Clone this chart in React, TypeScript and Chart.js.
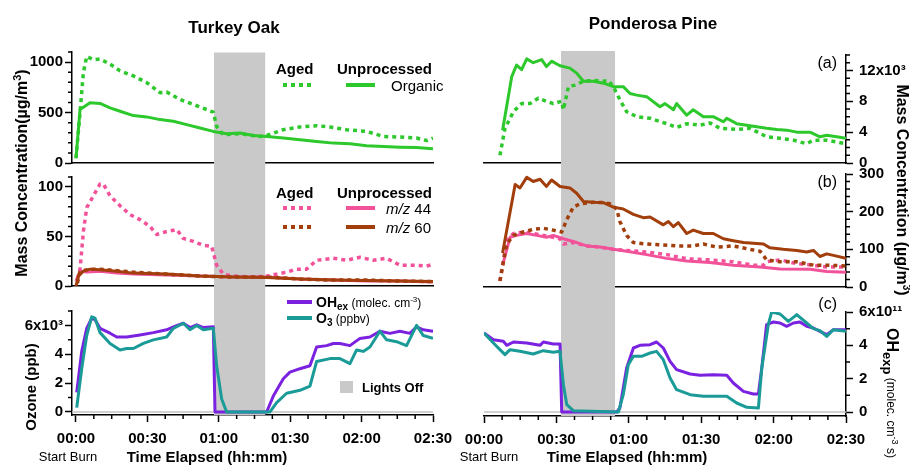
import React, { useEffect, useRef } from "react";
import { Chart, registerables } from "chart.js";

Chart.register(...registerables);

const FONT = '"Liberation Sans", Arial, Helvetica, sans-serif';

// ---------------- axes / annotations ----------------
const timeTicks = [0, 30, 60, 90, 120, 150]; // minutes since start of burn
const oakLightsOff = [58, 79.5];
const pineLightsOff = [31.9, 54.3];

const oakOrgTicks = [0, 500, 1000];
const oakMzTicks = [0, 50, 100];
const oakOxTicks = [0, 2, 4, 6];
const pineOrgTicks = [0, 4, 8, 12];
const pineMzTicks = [0, 100, 200, 300];
const pineOxTicks = [0, 2, 4, 6];

// ---------------- Turkey Oak (a) organic, ug/m3 ----------------
const oakOrgUnprocT = [0, 1.7, 5.9, 10.1, 14.3, 18.5, 24.1, 29.7, 35.3, 40.9, 46.5, 52.1, 57.7, 63.3, 68.9, 74.5, 80.1, 87.1, 94.1, 101.1, 108.1, 115.1, 122.1, 129.1, 136.1, 143.1, 150];
const oakOrgUnprocV = [47, 530, 597, 590, 547, 513, 470, 457, 430, 413, 380, 347, 313, 290, 297, 273, 263, 247, 230, 213, 197, 190, 170, 163, 157, 153, 140];
const oakOrgAgedT = [0, 1.7, 3.1, 4.5, 7.3, 10.1, 14.3, 18.5, 24.1, 29.7, 35.3, 38.1, 43.7, 49.3, 54.9, 57.7, 59.1, 61.9, 68.9, 77.3, 80.1, 87.1, 94.1, 101.1, 106.7, 113.7, 122.1, 129.1, 136.1, 143.1, 147.3, 150];
const oakOrgAgedV = [50, 500, 897, 1057, 1023, 1030, 980, 913, 863, 797, 697, 703, 630, 580, 530, 503, 363, 280, 290, 263, 273, 330, 357, 370, 357, 330, 313, 263, 257, 247, 223, 247];

// ---------------- Turkey Oak (b) m/z 44 & 60 ----------------
const oak44AgedT = [0.6, 1.7, 3.1, 4.5, 7.3, 10.1, 11.5, 14.3, 18.5, 22.7, 26.9, 31.1, 33.9, 38.1, 42.3, 45.1, 49.3, 53.5, 57.0, 59.1, 61.9, 66.1, 73.1, 80.1, 84.3, 88.5, 92.7, 96.9, 101.1, 108.1, 113.7, 119.3, 124.9, 130.5, 136.1, 143.1, 147.3, 150];
const oak44AgedV = [7, 17, 55, 79, 91, 103, 103, 91, 81, 72, 67, 60, 52, 55, 57, 48, 45, 41, 40, 21, 12, 10, 9, 10, 12, 14, 17, 17, 26, 28, 26, 29, 26, 28, 21, 21, 20, 22];
const oak44UnprocT = [0, 1.7, 4.5, 10.1, 17.1, 24.1, 38.1, 52.1, 66.1, 80.1, 94.1, 108.1, 122.1, 136.1, 150];
const oak44UnprocV = [5, 15, 14, 15, 13, 12, 11, 10, 9, 9, 7, 6, 5, 5, 4];
const oak60AgedT = [0.6, 1.7, 5.9, 10.1, 24.1, 38.1, 52.1, 66.1, 80.1, 94.1, 108.1, 122.1, 136.1, 150];
const oak60AgedV = [3, 15, 17, 17, 14, 12, 10, 9, 9, 7, 6, 6, 5, 4.5];
const oak60UnprocT = [0, 1.0, 3.1, 5.9, 10.1, 17.1, 24.1, 38.1, 52.1, 66.1, 80.1, 94.1, 108.1, 122.1, 136.1, 150];
const oak60UnprocV = [0, 10, 15, 17, 16.5, 15, 13, 12, 10, 9, 8.5, 7, 6, 5.5, 5, 4.5];

// ---------------- Turkey Oak (c) OH / O3 ----------------
const oakOHT = [0.3, 2.4, 4.5, 6.6, 8.0, 10.1, 14.3, 17.1, 21.3, 26.9, 32.5, 38.1, 40.9, 45.1, 47.9, 50.7, 53.5, 57.7, 58.4, 80.1, 82.9, 87.1, 89.9, 94.1, 98.3, 101.1, 105.3, 108.1, 110.9, 115.1, 119.3, 123.5, 127.7, 131.9, 136.1, 140.3, 143.1, 145.9, 150];
const oakOHV = [1.36, 4.2, 5.8, 6.5, 6.4, 5.8, 5.46, 5.2, 5.2, 5.34, 5.5, 5.7, 5.9, 6.15, 5.85, 6.04, 5.85, 5.9, 0, 0, 1.1, 2.3, 2.76, 3.0, 3.2, 4.5, 4.6, 4.75, 4.75, 4.6, 5.1, 5.2, 5.6, 5.45, 5.6, 5.45, 5.9, 5.7, 5.6];
const oakO3T = [0.3, 2.4, 4.5, 6.6, 8.0, 10.1, 14.3, 18.5, 21.3, 24.1, 28.3, 32.5, 38.1, 40.9, 45.1, 47.9, 50.7, 53.5, 57.7, 59.1, 61.2, 63.3, 81.5, 84.3, 88.5, 94.1, 98.3, 101.1, 106.7, 110.9, 115.1, 117.9, 120.7, 123.5, 127.7, 130.5, 134.7, 138.9, 143.1, 145.9, 150];
const oakO3V = [0.3, 3.0, 5.3, 6.6, 6.5, 5.5, 4.75, 4.3, 4.4, 4.4, 4.75, 5.0, 5.2, 5.8, 6.15, 5.7, 6.0, 5.7, 5.8, 3.2, 0.9, 0, 0, 0.65, 1.3, 1.5, 1.8, 3.5, 3.7, 3.7, 3.35, 4.3, 4.2, 4.5, 5.6, 5.0, 4.87, 4.6, 6.0, 5.3, 5.1];

// ---------------- Ponderosa Pine (a) organic, x10^3 ug/m3 ----------------
const pineOrgUnprocT = [7.7, 11.5, 13.5, 15.6, 17.7, 20.4, 23.9, 25.9, 28.0, 31.5, 35.6, 38.4, 41.2, 45.3, 49.5, 53.6, 57.7, 60.5, 63.3, 67.4, 72.9, 75.0, 78.5, 79.8, 84.0, 86.7, 90.9, 95.0, 99.2, 100.6, 104.7, 108.9, 113.0, 117.1, 121.3, 125.4, 129.6, 135.1, 139.2, 142.0, 146.1, 150];
const pineOrgUnprocV = [4.26, 11.2, 12.7, 12.1, 13.5, 13.0, 13.4, 12.5, 13.2, 12.6, 12.3, 11.65, 10.6, 10.6, 10.35, 9.9, 9.9, 9.0, 8.8, 8.6, 7.3, 7.7, 6.9, 7.7, 6.2, 6.9, 6.0, 6.0, 5.35, 5.8, 5.1, 4.9, 4.7, 4.5, 4.35, 4.26, 4.0, 4.0, 3.4, 3.6, 3.4, 3.2];
const pineOrgAgedT = [6.6, 8.7, 12.2, 15.6, 19.1, 22.5, 25.9, 28.7, 32.2, 32.9, 35.0, 37.7, 41.2, 45.3, 49.5, 51.5, 53.6, 56.3, 59.1, 63.3, 68.8, 75.7, 79.8, 84.0, 89.5, 93.6, 97.8, 104.7, 110.2, 117.1, 122.7, 128.2, 133.7, 136.5, 142.0, 150];
const pineOrgAgedV = [1.0, 4.5, 6.65, 7.7, 7.7, 8.4, 8.0, 7.7, 8.0, 6.9, 9.9, 10.1, 10.6, 10.7, 10.6, 10.7, 9.9, 8.2, 6.65, 6.0, 5.8, 5.1, 4.6, 5.1, 4.9, 5.2, 4.5, 4.35, 4.5, 3.4, 3.2, 2.96, 2.5, 2.96, 2.96, 2.5];

// ---------------- Ponderosa Pine (b) m/z 44 & 60 ----------------
const pine60UnprocT = [7.7, 12.9, 14.9, 17.7, 20.4, 23.2, 25.9, 28.0, 31.5, 35.6, 38.4, 41.2, 45.3, 49.5, 53.6, 57.7, 61.9, 66.0, 68.8, 74.3, 76.4, 78.5, 80.5, 84.0, 86.7, 90.9, 95.0, 99.2, 103.3, 107.5, 111.6, 115.8, 118.5, 124.0, 129.6, 133.7, 136.5, 139.2, 142.0, 144.8, 150];
const pine60UnprocV = [90, 272, 263, 291, 280, 286, 267, 284, 267, 263, 249, 227, 225, 224, 212, 207, 193, 184, 186, 165, 174, 160, 171, 142, 151, 142, 142, 128, 123, 118, 116, 114, 104, 100, 97, 93, 97, 81, 88, 84, 76];
const pine60AgedT = [6.6, 9.4, 12.2, 16.3, 20.4, 24.6, 28.7, 32.2, 34.3, 37.0, 39.8, 45.3, 49.5, 52.2, 55.0, 56.3, 59.1, 61.9, 67.4, 72.9, 79.8, 86.7, 90.9, 96.4, 103.3, 110.2, 114.4, 117.1, 122.7, 129.6, 136.5, 142.0, 150];
const pine60AgedV = [16, 114, 137, 146, 153, 156, 151, 146, 179, 212, 221, 225, 224, 221, 207, 174, 137, 118, 114, 112, 109, 109, 114, 106, 109, 100, 95, 72, 67, 67, 58, 58, 56];
const pine44UnprocT = [7.7, 10.8, 13.5, 17.7, 21.8, 25.9, 28.7, 32.9, 38.4, 42.6, 48.1, 53.6, 59.1, 67.4, 75.7, 84.0, 93.6, 103.3, 114.4, 122.7, 135.1, 142.0, 150];
const pine44UnprocV = [58, 132, 137, 142, 137, 132, 137, 128, 118, 109, 106, 100, 95, 86, 76, 69, 65, 58, 53, 48, 47, 41, 39];
const pine44AgedT = [6.6, 9.4, 12.2, 16.3, 20.4, 24.6, 28.7, 31.5, 32.9, 37.0, 42.6, 48.1, 53.6, 59.1, 67.4, 75.7, 84.0, 93.6, 103.3, 111.6, 115.8, 117.1, 122.7, 129.6, 136.5, 142.0, 150];
const pine44AgedV = [16, 123, 142, 146, 142, 137, 132, 128, 114, 118, 109, 106, 100, 97, 93, 86, 75, 72, 67, 58, 58, 67, 72, 62, 58, 53, 53];

// ---------------- Ponderosa Pine (c) OH exposure / O3 ----------------
const pineOHT = [0, 3.9, 8.0, 9.4, 12.2, 17.7, 23.2, 24.6, 28.7, 31.5, 32.2, 55.0, 56.3, 59.1, 61.9, 64.6, 68.8, 71.5, 74.3, 77.1, 79.8, 85.4, 89.5, 95.0, 100.6, 103.3, 107.5, 111.6, 113.7, 115.1, 117.1, 119.9, 122.7, 125.4, 128.2, 130.9, 133.7, 136.5, 139.2, 142.0, 144.8, 150];
const pineOHV = [4.74, 4.34, 4.24, 4.0, 4.2, 4.14, 4.0, 4.2, 4.08, 4.08, 0, 0, 0.24, 2.64, 3.84, 4.0, 4.04, 4.2, 3.84, 3.04, 2.54, 2.28, 2.2, 2.24, 2.2, 1.74, 1.24, 1.08, 1.08, 2.64, 5.24, 5.4, 5.34, 5.14, 5.34, 5.4, 5.14, 5.04, 4.84, 4.64, 4.94, 4.94];
const pineO3T = [0, 3.9, 6.6, 8.7, 10.8, 14.9, 20.4, 24.6, 28.7, 31.5, 32.9, 34.3, 37.0, 55.7, 57.7, 59.8, 61.9, 65.3, 68.8, 71.5, 74.3, 77.1, 79.8, 85.4, 90.9, 96.4, 100.6, 104.7, 108.9, 113.7, 115.1, 117.8, 119.2, 122.7, 126.1, 129.6, 133.7, 136.5, 139.2, 142.0, 144.8, 150];
const pineO3V = [4.74, 4.14, 3.74, 3.44, 3.74, 3.64, 3.48, 3.68, 3.58, 3.64, 1.64, 0.44, 0.08, 0, 1.04, 2.84, 3.34, 3.34, 3.54, 3.64, 3.14, 2.04, 1.34, 1.04, 0.94, 0.94, 0.94, 0.54, 0.28, 0.24, 2.64, 5.24, 6.0, 5.88, 5.44, 5.84, 5.34, 5.0, 4.88, 4.54, 4.94, 4.84];

// ---------------- styles ----------------
const GREEN = "#2cc82c";
const PINK = "#f2529a";
const BROWN = "#a23e0c";
const PURPLE = "#7a22e0";
const TEAL = "#1b9b98";
const BAND = "#c9c9c9";

type Series = { t: number[]; v: number[]; color: string; dashed?: boolean };
type PanelDef = {
  col: "L" | "R";
  top: number;
  bottom: number;
  bandTop: number;
  bandBottom: number;
  yMin: number;
  yMax: number;
  major: number[];
  minor: number;
  fmt: (v: number) => string;
  bottomAxis?: boolean;
  zeroLine?: boolean;
  series: Series[];
};

const COLS: Record<string, { left: number; right: number; xMin: number; xMax: number; yPos: "left" | "right"; lights: number[] }> = {
  L: { left: 72, right: 433, xMin: -1.68, xMax: 150, yPos: "left", lights: oakLightsOff },
  R: { left: 484, right: 846, xMin: 0, xMax: 150, yPos: "right", lights: pineLightsOff },
};

const plain = (v: number) => String(v);

const PANELS: PanelDef[] = [
  {
    col: "L", top: 52, bottom: 163, bandTop: 52.5, bandBottom: 177, yMin: 0, yMax: 1100,
    major: oakOrgTicks, minor: 100, fmt: plain,
    series: [
      { t: oakOrgUnprocT, v: oakOrgUnprocV, color: GREEN },
      { t: oakOrgAgedT, v: oakOrgAgedV, color: GREEN, dashed: true },
    ],
  },
  {
    col: "L", top: 177, bottom: 286, bandTop: 177, bandBottom: 311, yMin: 0, yMax: 110,
    major: oakMzTicks, minor: 10, fmt: plain,
    series: [
      { t: oak60UnprocT, v: oak60UnprocV, color: BROWN },
      { t: oak60AgedT, v: oak60AgedV, color: BROWN, dashed: true },
      { t: oak44UnprocT, v: oak44UnprocV, color: PINK },
      { t: oak44AgedT, v: oak44AgedV, color: PINK, dashed: true },
    ],
  },
  {
    col: "L", top: 311, bottom: 415, bandTop: 311, bandBottom: 415, yMin: -0.21, yMax: 7,
    major: oakOxTicks, minor: 1, fmt: (v) => (v === 6 ? "6x10\u00b3" : String(v)),
    bottomAxis: true, zeroLine: true,
    series: [
      { t: oakO3T, v: oakO3V, color: TEAL },
      { t: oakOHT, v: oakOHV, color: PURPLE },
    ],
  },
  {
    col: "R", top: 55, bottom: 163, bandTop: 51, bandBottom: 174, yMin: 0, yMax: 14,
    major: pineOrgTicks, minor: 1, fmt: (v) => (v === 12 ? "12x10\u00b3" : String(v)),
    series: [
      { t: pineOrgUnprocT, v: pineOrgUnprocV, color: GREEN },
      { t: pineOrgAgedT, v: pineOrgAgedV, color: GREEN, dashed: true },
    ],
  },
  {
    col: "R", top: 174, bottom: 287, bandTop: 174, bandBottom: 312, yMin: 0, yMax: 300,
    major: pineMzTicks, minor: 20, fmt: plain,
    series: [
      { t: pine60UnprocT, v: pine60UnprocV, color: BROWN },
      { t: pine60AgedT, v: pine60AgedV, color: BROWN, dashed: true },
      { t: pine44UnprocT, v: pine44UnprocV, color: PINK },
      { t: pine44AgedT, v: pine44AgedV, color: PINK, dashed: true },
    ],
  },
  {
    col: "R", top: 312, bottom: 416, bandTop: 312, bandBottom: 416, yMin: -0.24, yMax: 6,
    major: pineOxTicks, minor: 1, fmt: (v) => (v === 6 ? "6x10\u00b9\u00b9" : String(v)),
    bottomAxis: true, zeroLine: true,
    series: [
      { t: pineO3T, v: pineO3V, color: TEAL },
      { t: pineOHT, v: pineOHV, color: PURPLE },
    ],
  },
];

const fmtTime = (v: number) => {
  const h = Math.floor(v / 60);
  const m = Math.round(v % 60);
  return `${String(h).padStart(2, "0")}:${String(m).padStart(2, "0")}`;
};

function makeConfig(p: PanelDef): any {
  const c = COLS[p.col];
  const W = 910;
  const H = 465;
  const xH = p.bottomAxis ? 40 : 2;
  const yW = c.yPos === "left" ? c.left : W - c.right;
  const padding = {
    top: p.top,
    bottom: H - p.bottom - xH,
    left: c.yPos === "left" ? 0 : c.left,
    right: c.yPos === "left" ? W - c.right : 0,
  };
  const datasets = p.series.map((s) => ({
    data: s.t.map((t, i) => ({ x: t, y: s.v[i] })),
    borderColor: s.color,
    backgroundColor: s.color,
    borderWidth: s.dashed ? 3.5 : 3,
    borderDash: s.dashed ? [4, 4] : [],
    borderCapStyle: "butt",
    borderJoinStyle: "round",
    pointRadius: 0,
    pointHoverRadius: 0,
    fill: false,
    tension: 0,
  }));

  const deco = {
    id: "deco",
    beforeDatasetsDraw(chart: any) {
      const { ctx, chartArea, scales } = chart;
      const xs = scales.x;
      const ys = scales.y;
      ctx.save();
      if (p.zeroLine) {
        const y0 = ys.getPixelForValue(0);
        ctx.strokeStyle = "#c2c2c2";
        ctx.lineWidth = 1.5;
        ctx.beginPath();
        ctx.moveTo(chartArea.left, y0);
        ctx.lineTo(chartArea.right, y0);
        ctx.stroke();
      }
      const x0 = xs.getPixelForValue(c.lights[0]);
      const x1 = xs.getPixelForValue(c.lights[1]);
      ctx.fillStyle = BAND;
      ctx.fillRect(x0, p.bandTop, x1 - x0, p.bandBottom - p.bandTop);
      ctx.restore();
    },
    afterDraw(chart: any) {
      const { ctx, chartArea, scales } = chart;
      const xs = scales.x;
      const ys = scales.y;
      ctx.save();
      ctx.strokeStyle = "#000";
      ctx.lineWidth = 1.5;
      const ax = c.yPos === "left" ? chartArea.left : chartArea.right;
      const dir = c.yPos === "left" ? -1 : 1;
      const n = Math.round(p.yMax / p.minor);
      ctx.beginPath();
      for (let i = 1; i <= n; i++) {
        const v = i * p.minor;
        if (v > p.yMax + 1e-9) break;
        if (p.major.some((m) => Math.abs(m - v) < 1e-9)) continue;
        const py = ys.getPixelForValue(v);
        ctx.moveTo(ax, py);
        ctx.lineTo(ax + dir * 4, py);
      }
      if (p.bottomAxis) {
        for (let i = 1; i < 20; i++) {
          if (i % 4 === 0) continue;
          const px = xs.getPixelForValue(i * 7.5);
          ctx.moveTo(px, chartArea.bottom);
          ctx.lineTo(px, chartArea.bottom + 4);
        }
      }
      ctx.stroke();
      ctx.restore();
    },
  };

  return {
    type: "line",
    data: { datasets },
    options: {
      responsive: false,
      maintainAspectRatio: false,
      animation: false,
      devicePixelRatio: 1,
      events: [],
      layout: { padding },
      plugins: {
        legend: { display: false },
        tooltip: { enabled: false },
        title: { display: false },
      },
      scales: {
        x: {
          type: "linear",
          min: c.xMin,
          max: c.xMax,
          afterBuildTicks: (s: any) => {
            s.ticks = timeTicks.map((v) => ({ value: v }));
          },
          afterFit: (s: any) => {
            s.height = xH;
          },
          grid: {
            display: !!p.bottomAxis,
            drawOnChartArea: false,
            drawTicks: true,
            tickLength: 7,
            tickColor: "#000",
            tickWidth: 1.5,
          },
          border: { display: true, color: "#000", width: 1.5 },
          ticks: {
            display: !!p.bottomAxis,
            autoSkip: false,
            maxRotation: 0,
            padding: 8,
            color: "#000",
            font: { family: FONT, size: 15, weight: "bold" },
            callback: (v: number) => fmtTime(v),
          },
        },
        y: {
          type: "linear",
          position: c.yPos,
          min: p.yMin,
          max: p.yMax,
          afterBuildTicks: (s: any) => {
            s.ticks = p.major.map((v) => ({ value: v }));
          },
          afterFit: (s: any) => {
            s.width = yW;
          },
          grid: {
            drawOnChartArea: false,
            drawTicks: true,
            tickLength: 7,
            tickColor: "#000",
            tickWidth: 1.5,
          },
          border: { display: true, color: "#000", width: 1.5 },
          ticks: {
            autoSkip: false,
            padding: c.yPos === "left" ? 2 : 6,
            color: "#000",
            font: { family: FONT, size: 15, weight: "bold" },
            callback: (v: number) => p.fmt(v),
          },
        },
      },
    },
    plugins: [deco],
  };
}

function PanelCanvas({ panel }: { panel: PanelDef }) {
  const ref = useRef<HTMLCanvasElement>(null);
  useEffect(() => {
    if (!ref.current) return;
    const chart = new Chart(ref.current, makeConfig(panel));
    return () => chart.destroy();
  }, [panel]);
  return (
    <canvas
      ref={ref}
      width={910}
      height={465}
      style={{ position: "absolute", left: 0, top: 0, width: 910, height: 465, pointerEvents: "none" }}
    />
  );
}

type TxtProps = {
  x: number;
  y: number;
  size: number;
  bold?: boolean;
  align?: "left" | "center" | "right";
  rotate?: number;
  children: React.ReactNode;
};
function Txt({ x, y, size, bold, align = "left", rotate = 0, children }: TxtProps) {
  const tx = align === "left" ? "0" : align === "center" ? "-50%" : "-100%";
  return (
    <div
      style={{
        position: "absolute",
        left: x,
        top: y,
        transform: `translate(${tx},-50%) rotate(${rotate}deg)`,
        fontSize: size,
        fontWeight: bold ? 700 : 400,
        lineHeight: 1,
        whiteSpace: "nowrap",
      }}
    >
      {children}
    </div>
  );
}

const Sup = ({ s, d, children, bold }: { s: number; d: number; bold?: boolean; children: React.ReactNode }) => (
  <span style={{ fontSize: s, position: "relative", top: d, fontWeight: bold ? 700 : undefined }}>{children}</span>
);

function LineSample({ x0, x1, y, color, dashed }: { x0: number; x1: number; y: number; color: string; dashed?: boolean }) {
  return (
    <div
      style={{
        position: "absolute",
        left: x0,
        top: y - 2,
        width: x1 - x0,
        height: 4,
        background: dashed
          ? `repeating-linear-gradient(90deg, ${color} 0px, ${color} 4px, transparent 4px, transparent 8px)`
          : color,
      }}
    />
  );
}

export default function App() {
  return (
    <div
      style={{
        position: "fixed",
        left: 0,
        top: 0,
        width: 910,
        height: 465,
        background: "#fff",
        overflow: "hidden",
        fontFamily: FONT,
        color: "#000",
      }}
    >
      {PANELS.map((p, i) => (
        <PanelCanvas key={i} panel={p} />
      ))}

      {/* titles */}
      <Txt x={234} y={27} size={17} bold align="center">Turkey Oak</Txt>
      <Txt x={653} y={23} size={17} bold align="center">Ponderosa Pine</Txt>

      {/* axis titles */}
      <Txt x={22} y={173} size={16} bold align="center" rotate={-90}>
        Mass Concentration(µg/m<Sup s={11} d={-6}>3</Sup>)
      </Txt>
      <Txt x={30} y={387} size={15} bold align="center" rotate={-90}>Ozone (ppb)</Txt>
      <Txt x={902} y={190} size={16} bold align="center" rotate={90}>
        Mass Concentration (µg/m<Sup s={10} d={-6}>3</Sup>)
      </Txt>
      <Txt x={892} y={393} size={16} bold align="center" rotate={90}>
        OH<Sup s={13} d={4}>exp</Sup>
        <span style={{ fontSize: 12, fontWeight: 400 }}> (molec. cm<Sup s={9} d={-5}>-3</Sup> s)</span>
      </Txt>

      {/* panel letters */}
      <Txt x={837} y={63} size={16} align="right">(a)</Txt>
      <Txt x={837} y={182} size={16} align="right">(b)</Txt>
      <Txt x={837} y={304} size={16} align="right">(c)</Txt>

      {/* legend a */}
      <Txt x={276} y={68} size={15} bold>Aged</Txt>
      <Txt x={337} y={68} size={15} bold>Unprocessed</Txt>
      <LineSample x0={283} x1={312} y={85} color={GREEN} dashed />
      <LineSample x0={346} x1={375} y={85} color={GREEN} />
      <Txt x={391} y={85} size={15}>Organic</Txt>

      {/* legend b */}
      <Txt x={276} y={192} size={15} bold>Aged</Txt>
      <Txt x={337} y={192} size={15} bold>Unprocessed</Txt>
      <LineSample x0={283} x1={312} y={208} color={PINK} dashed />
      <LineSample x0={346} x1={375} y={208} color={PINK} />
      <Txt x={386} y={208} size={15}><i>m/z</i> 44</Txt>
      <LineSample x0={283} x1={312} y={227} color={BROWN} dashed />
      <LineSample x0={346} x1={375} y={227} color={BROWN} />
      <Txt x={386} y={227} size={15}><i>m/z</i> 60</Txt>

      {/* legend c */}
      <LineSample x0={287} x1={312} y={302} color={PURPLE} />
      <Txt x={316} y={302} size={14} bold>
        OH<Sup s={10} d={3}>ex</Sup>
        <span style={{ fontSize: 12, fontWeight: 400 }}> (molec. cm<Sup s={8} d={-5}>-3</Sup>)</span>
      </Txt>
      <LineSample x0={287} x1={312} y={318} color={TEAL} />
      <Txt x={316} y={318} size={14} bold>
        O<Sup s={10} d={3}>3</Sup>
        <span style={{ fontSize: 12, fontWeight: 400 }}> (ppbv)</span>
      </Txt>
      <div style={{ position: "absolute", left: 340, top: 381, width: 13, height: 12, background: BAND }} />
      <Txt x={362} y={387} size={13} bold>Lights Off</Txt>

      {/* x axis titles */}
      <Txt x={68} y={456} size={13} align="center">Start Burn</Txt>
      <Txt x={207} y={456} size={15} bold align="center">Time Elapsed (hh:mm)</Txt>
      <Txt x={489} y={456} size={13} align="center">Start Burn</Txt>
      <Txt x={627} y={456} size={15} bold align="center">Time Elapsed (hh:mm)</Txt>
    </div>
  );
}
